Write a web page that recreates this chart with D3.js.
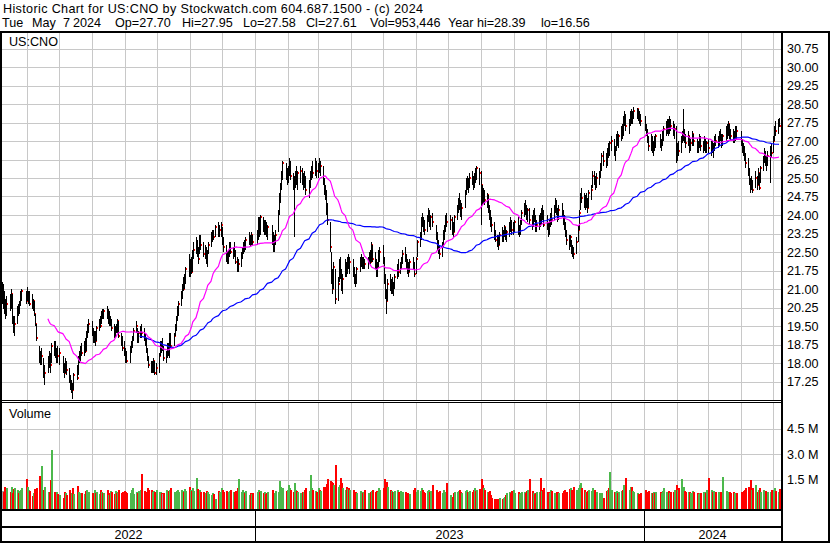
<!DOCTYPE html>
<html>
<head>
<meta charset="utf-8">
<script src="https://cdn.jsdelivr.net/npm/d3@7"></script>
<style>
  body { margin: 0; background: #fff; }
  svg { display: block; }
  text { font-family: "Liberation Sans", Arial, sans-serif; font-size: 12.6px; fill: #000; white-space: pre; }
</style>
</head>
<body>
<svg id="chart" width="830" height="543"></svg>
<script>
// daily bars, one row per month (May 2022 .. May 2024)
var closes = [
  21.0,20.5,20.1,20.0,20.4,20.3,20.8,19.7,19.5,19.6,20.2,20.1,20.4,20.7,20.9,20.5,
  20.7,20.8,20.4,20.3,20.5,20.0,19.6,19.0,18.2,18.1,18.3,17.5,17.6,18.1,18.0,17.9,18.7,18.5,18.3,18.4,18.3,
  18.4,17.8,17.6,18.0,17.7,17.3,17.0,17.1,16.9,17.5,17.4,18.2,18.3,18.6,18.4,18.8,18.5,19.2,19.4,19.6,
  19.3,19.0,19.2,18.9,19.4,19.6,19.5,20.0,19.9,20.1,19.9,20.0,19.6,19.7,19.4,19.1,19.4,19.3,19.7,19.1,18.9,18.6,18.5,
  18.2,18.1,18.6,18.8,19.0,19.3,19.5,18.9,19.2,19.3,19.2,19.0,18.8,18.5,18.2,17.9,17.7,17.8,18.1,17.6,17.8,
  18.3,18.8,18.6,18.6,18.2,18.3,18.7,18.5,19.1,18.7,19.1,19.4,19.8,20.2,20.4,20.8,21.1,21.0,21.4,21.8,21.7,
  21.8,21.7,22.4,22.6,22.9,22.5,22.2,23.1,22.8,22.4,22.6,22.1,22.5,22.8,23.2,23.3,23.1,23.5,23.2,23.4,23.6,
  23.0,22.7,22.3,22.2,22.5,22.8,22.5,22.6,22.4,22.1,21.9,22.0,22.4,22.6,22.8,22.7,23.0,23.1,22.9,23.2,22.9,
  23.2,23.7,23.3,23.9,23.5,23.6,23.4,23.3,23.5,23.0,22.7,23.0,23.2,24.1,24.8,25.2,25.6,26.1,25.6,25.8,
  25.9,26.0,25.6,25.2,25.3,25.6,25.4,25.7,25.8,25.4,25.5,25.3,25.0,25.2,25.7,25.9,25.7,26.1,25.8,
  26.0,25.9,26.0,25.3,25.0,24.9,24.2,23.8,22.7,21.5,21.0,21.9,20.6,21.2,22.0,21.5,21.1,21.4,22.0,21.7,22.2,21.9,22.1,
  21.6,21.4,21.3,21.8,22.0,22.2,21.9,22.1,22.0,22.2,22.3,22.1,22.8,22.2,22.0,21.7,21.9,22.4,22.5,
  22.2,21.4,20.8,20.5,21.2,21.0,21.3,21.0,21.1,21.5,21.9,21.7,22.0,22.2,22.4,22.3,21.9,21.8,21.7,22.1,22.0,21.6,
  22.2,22.9,23.1,23.8,23.7,23.5,23.4,23.9,24.1,23.6,23.9,23.7,23.1,22.8,22.6,22.4,22.8,23.3,23.4,23.9,23.7,
  23.8,23.4,23.3,23.9,24.3,24.5,24.4,24.1,24.3,24.9,25.4,25.2,25.3,25.5,25.4,25.3,25.6,25.5,25.9,25.7,
  25.2,24.6,24.9,24.6,24.8,24.3,23.9,23.7,23.6,23.2,23.0,22.9,22.8,23.2,23.0,23.3,23.5,23.1,23.3,23.6,23.5,23.4,23.6,
  23.7,23.3,23.4,23.7,24.1,24.3,24.2,23.9,24.2,23.8,23.6,24.0,23.9,23.5,23.6,23.9,23.7,24.2,24.0,23.6,
  23.5,23.3,23.7,24.0,23.8,24.3,24.5,24.1,23.9,24.2,24.0,23.8,23.6,23.3,23.0,22.8,23.1,22.6,22.5,22.4,22.9,23.4,
  24.1,24.8,24.7,24.5,24.6,24.4,24.3,24.9,25.0,25.6,25.4,25.3,25.5,25.7,25.9,26.4,26.2,26.1,26.6,26.5,26.9,
  27.0,26.6,26.7,27.2,26.9,27.2,27.5,27.3,27.9,28.0,27.6,27.8,28.1,27.8,28.0,28.2,28.3,28.0,27.9,27.8,
  27.6,27.3,27.0,26.8,27.1,26.7,26.9,26.8,27.2,26.9,27.0,27.3,27.5,27.6,27.7,27.4,27.8,27.6,27.4,27.5,26.4,
  26.8,26.6,27.1,27.2,27.3,27.0,26.9,27.2,26.7,26.9,27.3,27.0,26.8,26.9,27.1,26.8,26.9,27.0,26.7,26.9,
  26.7,26.8,26.6,26.7,27.1,27.0,27.1,27.3,27.2,26.9,27.2,27.4,27.5,27.7,27.3,27.2,27.1,27.2,27.5,27.4,
  27.0,26.7,26.6,26.3,26.1,25.8,25.4,25.1,25.2,25.0,25.5,25.2,25.7,25.1,25.9,26.3,26.5,26.2,26.1,26.4,26.6,26.5,
  27.0,27.5,27.4,27.8,27.61
];
var highs = [
  21.3,21.2,20.9,20.6,20.7,20.8,21.0,20.8,19.9,19.9,20.3,20.4,20.5,20.9,21.0,20.9,
  21.1,20.9,20.9,20.8,20.6,20.5,20.0,19.6,18.7,18.5,18.6,18.2,17.9,18.3,18.5,18.4,18.8,18.9,18.9,18.6,18.7,
  18.6,18.3,18.0,18.2,18.1,17.8,17.5,17.3,17.2,17.6,17.9,18.3,18.5,18.7,18.8,18.9,19.0,19.3,19.6,19.8,
  19.7,19.4,19.3,19.3,19.5,19.8,19.9,20.1,20.2,20.2,20.3,20.2,20.1,19.9,19.8,19.6,19.5,19.6,19.8,19.7,19.2,19.1,18.9,
  18.6,18.5,18.7,18.9,19.1,19.4,19.7,19.4,19.3,19.5,19.6,19.4,19.2,19.0,18.6,18.3,18.1,18.1,18.2,18.1,18.0,
  18.4,18.9,18.9,19.0,18.7,18.5,18.8,18.8,19.2,19.2,19.2,19.6,19.9,20.3,20.5,20.9,21.2,21.5,21.6,21.9,22.4,
  22.2,22.3,22.6,22.9,23.1,23.0,22.7,23.2,23.2,22.9,22.8,22.7,22.6,22.9,23.3,23.4,23.4,23.6,23.7,23.6,23.7,
  23.5,23.1,22.8,22.5,22.6,22.9,22.9,22.7,22.9,22.6,22.3,22.2,22.5,22.7,22.9,23.0,23.1,23.3,23.2,23.3,23.2,
  23.4,23.9,23.9,24.0,23.9,23.8,23.8,23.7,23.6,23.6,23.3,23.2,23.4,24.2,24.9,25.3,25.8,26.2,26.1,25.9,
  26.0,26.3,26.2,25.7,25.6,25.8,26.0,25.8,26.0,25.9,25.7,25.8,25.6,25.4,25.8,26.0,26.2,26.3,26.2,
  26.1,26.3,26.2,26.0,25.5,25.2,25.0,24.5,23.7,22.5,21.8,22.1,21.8,21.5,22.2,22.3,21.8,21.6,22.2,22.1,22.3,22.4,22.3,
  22.2,21.9,21.6,21.9,22.3,22.4,22.3,22.3,22.2,22.3,22.5,22.6,22.9,22.8,22.5,22.2,22.1,22.6,22.7,
  22.8,22.3,21.6,21.0,21.4,21.6,21.4,21.5,21.3,21.6,22.0,22.2,22.1,22.3,22.6,22.7,22.4,22.2,22.1,22.2,22.3,22.1,
  22.3,23.0,23.3,23.9,24.1,23.9,23.8,24.0,24.3,24.2,24.0,24.1,23.6,23.3,23.0,22.8,22.9,23.4,23.6,24.0,24.1,
  24.0,23.9,23.7,24.0,24.4,24.7,24.9,24.6,24.5,25.0,25.5,25.6,25.5,25.7,25.8,25.6,25.7,25.9,26.0,25.9,
  25.8,25.2,25.1,25.0,24.9,24.8,24.4,24.2,23.9,23.7,23.4,23.2,23.2,23.3,23.5,23.4,23.6,23.5,23.4,23.7,23.9,23.8,23.7,
  23.8,23.9,23.6,23.8,24.2,24.5,24.6,24.4,24.3,24.3,24.0,24.2,24.3,24.0,23.8,24.0,24.1,24.3,24.4,24.2,
  24.0,23.7,23.8,24.1,24.3,24.4,24.7,24.6,24.3,24.4,24.5,24.2,24.0,23.7,23.4,23.2,23.2,23.0,22.8,22.7,23.1,23.6,
  24.2,24.9,25.1,24.9,24.8,24.9,24.7,25.0,25.2,25.8,25.8,25.6,25.7,25.8,26.1,26.5,26.6,26.5,26.7,26.9,27.0,
  27.2,27.1,26.8,27.3,27.4,27.3,27.6,27.7,28.0,28.2,28.1,27.9,28.2,28.3,28.2,28.39,28.35,28.3,28.2,28.1,
  28.0,27.7,27.5,27.2,27.3,27.2,27.0,27.2,27.3,27.3,27.1,27.4,27.6,27.8,27.9,27.9,28.0,27.9,27.8,27.7,27.6,
  26.9,27.0,27.2,27.4,28.3,27.5,27.3,27.4,27.2,27.1,27.4,27.3,27.1,27.0,27.3,27.2,27.0,27.2,27.1,27.0,
  27.1,27.0,27.0,26.9,27.2,27.3,27.2,27.4,27.5,27.3,27.3,27.6,27.7,27.8,27.7,27.5,27.5,27.4,27.6,27.6,
  27.4,27.1,26.9,26.8,26.5,26.3,25.9,25.5,25.6,25.4,25.8,25.6,25.9,25.7,26.0,26.4,26.7,26.6,26.4,26.6,26.8,26.9,
  27.2,27.6,27.8,27.9,27.95
];
var lows = [
  20.4,20.2,20.0,19.8,19.9,20.1,20.2,19.6,19.2,19.1,19.6,19.9,20.0,20.3,20.5,20.4,
  20.5,20.4,20.3,20.2,20.1,19.9,19.5,18.9,18.0,17.9,17.9,17.4,17.1,17.6,17.8,17.6,18.0,18.3,18.2,18.0,18.0,
  17.9,17.6,17.4,17.6,17.5,17.2,16.9,16.8,16.56,16.9,17.3,17.5,18.0,18.1,18.3,18.3,18.4,18.5,19.0,19.2,
  19.1,18.8,18.8,18.7,18.9,19.3,19.4,19.6,19.8,19.8,19.8,19.6,19.5,19.5,19.3,19.0,19.0,19.2,19.2,19.0,18.7,18.5,18.3,
  18.0,18.0,18.0,18.4,18.6,18.9,19.2,18.8,18.8,19.0,19.0,18.9,18.7,18.4,18.1,17.8,17.6,17.6,17.6,17.5,17.5,
  17.6,18.3,18.4,18.5,18.1,18.0,18.2,18.3,18.2,18.6,18.7,19.1,19.3,19.7,19.9,20.3,20.6,20.9,21.0,21.2,21.5,
  21.5,21.6,21.7,22.2,22.4,22.3,22.0,22.4,22.6,22.3,22.2,22.0,21.9,22.4,22.7,22.9,23.0,23.1,23.1,23.1,23.1,
  22.8,22.5,22.1,22.0,22.0,22.3,22.4,22.2,22.3,22.0,21.7,21.7,21.9,22.2,22.4,22.5,22.6,22.8,22.7,22.8,22.8,
  22.8,23.0,23.1,23.2,23.3,23.2,23.2,23.1,23.0,22.8,22.5,22.5,22.8,23.3,24.0,24.5,25.0,25.4,25.4,25.2,
  25.3,25.6,25.4,25.0,23.1,25.1,25.2,25.0,25.3,25.2,25.0,25.1,24.8,24.7,25.1,25.4,25.5,25.6,25.5,
  25.5,25.7,25.6,25.2,24.8,24.6,24.0,23.6,22.5,21.2,20.8,21.0,20.4,20.5,21.3,21.4,20.9,20.8,21.5,21.5,21.6,21.8,21.6,
  21.5,21.2,21.1,21.2,21.7,21.9,21.8,21.8,21.8,21.8,22.0,22.0,22.1,22.1,21.8,21.5,21.5,21.9,22.1,
  22.0,21.2,20.6,20.0,20.5,20.9,20.8,20.8,20.7,21.0,21.4,21.5,21.6,21.8,22.0,22.1,21.8,21.6,21.5,21.7,21.8,21.5,
  21.6,22.3,22.7,23.0,23.5,23.3,23.2,23.3,23.7,23.5,23.4,23.5,23.0,22.6,22.4,22.2,22.3,22.7,23.0,23.3,23.5,
  23.4,23.2,23.1,23.3,23.8,24.1,24.2,23.9,23.8,24.3,24.8,25.0,24.9,25.1,25.2,25.0,25.1,25.3,25.4,25.2,
  23.6,24.4,24.5,24.4,24.3,24.1,23.8,23.5,23.3,23.0,22.9,22.7,22.6,22.8,22.9,22.9,23.1,23.0,22.9,23.1,23.3,23.2,23.2,
  23.3,23.2,23.1,23.2,23.6,23.9,24.0,23.8,23.7,23.6,23.4,23.5,23.7,23.3,23.3,23.4,23.5,23.6,23.8,23.5,
  23.4,23.1,23.2,23.5,23.6,23.8,24.1,24.0,23.7,23.8,23.9,23.6,23.4,23.1,22.8,22.6,22.7,22.4,22.3,22.2,22.4,22.9,
  23.4,24.2,24.5,24.3,24.2,24.3,24.1,24.3,24.6,25.1,25.2,25.0,25.1,25.2,25.5,25.8,26.0,25.9,26.0,26.3,26.4,
  26.6,26.4,26.2,26.6,26.8,26.7,27.0,27.1,27.2,27.6,27.4,27.3,27.6,27.7,27.7,27.9,27.9,27.8,27.7,27.6,
  27.4,27.2,26.9,26.6,26.6,26.5,26.4,26.6,26.7,26.7,26.6,26.8,27.0,27.2,27.3,27.2,27.3,27.4,27.2,27.1,26.1,
  26.2,26.4,26.5,26.9,27.0,26.9,26.7,26.8,26.5,26.6,26.8,26.8,26.5,26.5,26.7,26.6,26.5,26.6,26.5,26.5,
  26.5,26.4,26.5,26.3,26.6,26.8,26.7,26.8,27.0,26.7,26.8,27.0,27.1,27.2,27.1,27.0,26.9,26.9,27.0,27.1,
  26.8,26.5,26.4,26.2,25.9,25.6,25.2,24.9,25.0,24.9,25.1,25.0,25.2,25.0,25.3,25.8,26.1,26.0,25.8,26.0,25.3,26.3,
  26.5,27.0,27.2,27.3,27.58
];
// volume in thousands of shares
var volumes = [
  820,780,1050,900,1000,760,1090,700,960,1020,880,750,820,900,1000,1550,
  1080,900,850,520,700,980,900,1000,1720,850,2300,900,1100,800,760,1500,3250,780,700,800,650,
  600,450,800,700,580,900,650,720,1000,680,1150,800,700,620,750,680,820,900,700,760,
  720,650,880,700,760,690,920,800,700,750,900,620,700,820,760,690,850,730,780,900,700,800,860,
  780,700,720,900,1000,650,800,700,820,900,1850,850,760,700,1000,880,920,800,850,760,900,
  800,760,700,650,720,880,780,820,900,1000,760,700,850,900,780,900,820,760,980,850,1050,
  900,820,1000,850,1600,950,880,920,800,760,700,820,780,650,600,700,650,380,820,760,1000,
  880,760,820,700,760,820,900,800,780,820,1000,1550,800,900,760,700,820,600,700,650,720,
  800,900,760,820,700,760,680,720,800,900,750,700,820,760,1450,1100,900,1000,850,900,
  1200,1000,900,800,1300,900,820,760,700,800,760,900,1000,850,1800,1000,900,850,800,
  1000,900,850,1100,1000,1050,1250,1550,1450,1350,1300,1200,2350,1100,1200,1600,1300,1000,900,1100,950,1000,900,
  900,800,760,700,820,760,720,800,900,700,650,760,820,900,800,850,760,1000,900,
  1000,1550,1300,1400,1100,900,820,760,800,850,900,760,820,700,800,760,700,720,680,650,900,1000,
  800,900,820,1000,900,760,700,820,900,760,820,1200,900,800,760,820,700,900,760,800,1300,
  600,500,700,760,800,820,900,760,700,850,900,800,760,820,780,900,1000,850,900,950,
  1550,1200,1000,900,800,760,820,600,450,400,380,350,400,420,380,450,500,600,720,760,700,820,900,
  700,760,650,720,800,760,700,820,900,1550,820,700,650,720,800,760,1600,820,900,1000,
  800,760,700,900,820,700,650,760,800,720,700,820,900,760,800,950,1000,900,850,1100,900,1000,
  1200,1300,1000,900,800,760,820,900,850,1000,900,800,760,720,650,700,450,820,900,1000,1950,
  900,800,760,820,700,760,820,900,1200,1000,1600,900,1100,1050,820,760,700,650,600,700,
  900,800,760,820,700,750,800,720,760,800,700,820,1000,760,800,850,700,760,800,900,1200,
  900,1000,1550,900,1100,820,760,800,760,700,820,760,700,650,720,700,760,800,720,900,
  1600,900,760,820,700,800,760,720,800,760,1650,820,760,700,800,720,760,700,650,700,
  800,760,820,900,1000,1100,1000,1500,900,1000,1200,800,900,1000,800,900,760,820,700,760,800,900,
  900,1000,850,800,953
];
var holidays = ["2022-05-30","2022-06-20","2022-07-04","2022-09-05","2022-11-24","2022-12-26",
  "2023-01-02","2023-01-16","2023-02-20","2023-04-07","2023-05-29","2023-06-19","2023-07-04",
  "2023-09-04","2023-11-23","2023-12-25","2024-01-01","2024-01-15","2024-02-19","2024-03-29"];
var priceTicks = [17.25,18.00,18.75,19.50,20.25,21.00,21.75,22.50,23.25,24.00,24.75,25.50,26.25,27.00,27.75,28.50,29.25,30.00,30.75];
var volTicks = [1500,3000,4500];
var volTickLabels = ["1.5 M","3.0 M","4.5 M"];
var years = ["2022","2023","2024"];
var header1 = "Historic Chart for US:CNO by Stockwatch.com 604.687.1500 - (c) 2024";
var header2 = ["Tue","May","7","2024","Op=27.70","Hi=27.95","Lo=27.58","Cl=27.61","Vol=953,446","Year hi=28.39","lo=16.56"];
var header2X = [2, 32, 63, 73, 115, 182, 243, 306, 370, 448, 541];

var fmt = d3.timeFormat("%Y-%m-%d");
var days = d3.timeDay.range(new Date(2022, 4, 9), new Date(2024, 4, 8))
  .filter(function(d) { return d.getDay() % 6 !== 0 && holidays.indexOf(fmt(d)) < 0; });

var left = 2, right = 781, pTop = 33, pBot = 400, vTop = 403, vBot = 509;

var x = d3.scaleTime().domain([new Date(2022, 4, 8), new Date(2024, 4, 8)]).range([1, 780]);
var yP = d3.scaleLinear().domain([16.5, 31.5]).range([400, 30]);
var yV = d3.scaleLinear().domain([0, 6000]).range([505.3, 403.3]);

var svg = d3.select("#chart");
svg.append("rect").attr("width", 830).attr("height", 543).attr("fill", "#fff");

var grid = svg.append("g").attr("stroke", "#c8c8c8").attr("stroke-width", 1).attr("shape-rendering", "crispEdges");
var months = x.ticks(d3.timeMonth.every(1)).filter(function(m) { return x(m) > left + 3; });

grid.selectAll(".mp").data(months).enter().append("line")
  .attr("x1", function(d) { return Math.round(x(d)) + 0.5; })
  .attr("x2", function(d) { return Math.round(x(d)) + 0.5; })
  .attr("y1", pTop).attr("y2", pBot);
grid.selectAll(".mv").data(months).enter().append("line")
  .attr("x1", function(d) { return Math.round(x(d)) + 0.5; })
  .attr("x2", function(d) { return Math.round(x(d)) + 0.5; })
  .attr("y1", vTop).attr("y2", vBot);
grid.selectAll(".hp").data(priceTicks).enter().append("line")
  .attr("x1", left).attr("x2", right)
  .attr("y1", function(d) { return Math.round(yP(d)) + 0.5; })
  .attr("y2", function(d) { return Math.round(yP(d)) + 0.5; });
grid.selectAll(".hv").data(volTicks).enter().append("line")
  .attr("x1", left).attr("x2", right)
  .attr("y1", function(d) { return Math.round(yV(d)) + 0.5; })
  .attr("y2", function(d) { return Math.round(yV(d)) + 0.5; });

var rows = days.map(function(d, i) {
  return { date: d, px: Math.round(x(d)), h: highs[i], l: lows[i], c: closes[i], v: volumes[i],
           prev: i ? closes[i - 1] : closes[i] };
});

// volume bars
svg.append("g").attr("shape-rendering", "crispEdges")
  .selectAll("rect").data(rows).enter().append("rect")
  .attr("x", function(d) { return d.px; })
  .attr("width", 2)
  .attr("y", function(d) { return Math.round(yV(d.v)); })
  .attr("height", function(d) { return vBot - Math.round(yV(d.v)); })
  .attr("fill", function(d) { return d.c > d.prev ? "#4cb84c" : d.c < d.prev ? "#ff0000" : "#a0a0a0"; });

// price bars: black high-low, red close tick to the right
var pb = svg.append("g").attr("shape-rendering", "crispEdges")
  .selectAll("g").data(rows).enter().append("g");
pb.append("rect")
  .attr("x", function(d) { return d.px; })
  .attr("width", 1)
  .attr("y", function(d) { return Math.round(yP(Math.max(d.h, d.c))); })
  .attr("height", function(d) { return Math.max(1, Math.round(yP(Math.min(d.l, d.c))) - Math.round(yP(Math.max(d.h, d.c)))); })
  .attr("fill", "#000");
pb.append("rect")
  .attr("x", function(d) { return d.px + 1; })
  .attr("width", 1)
  .attr("y", function(d) { return Math.round(yP(d.c)) - 1; })
  .attr("height", 2)
  .attr("fill", "#ff0000");

// moving averages
function sma(n) {
  return rows.map(function(d, i) {
    return { date: d.date, v: i < n - 1 ? null : d3.mean(closes.slice(i - n + 1, i + 1)) };
  });
}
var line = d3.line().defined(function(d) { return d.v != null; })
  .x(function(d) { return x(d.date); }).y(function(d) { return yP(d.v); });
svg.append("path").datum(sma(90)).attr("d", line)
  .attr("fill", "none").attr("stroke", "#0000ff").attr("stroke-width", 1.2);
svg.append("path").datum(sma(30)).attr("d", line)
  .attr("fill", "none").attr("stroke", "#ff00ff").attr("stroke-width", 1.2);

// frame
var frame = svg.append("g").attr("fill", "#000").attr("shape-rendering", "crispEdges");
frame.append("rect").attr("x", 0).attr("y", 31).attr("width", 830).attr("height", 2);
frame.append("rect").attr("x", 0).attr("y", 31).attr("width", 2).attr("height", 512);
frame.append("rect").attr("x", 828).attr("y", 31).attr("width", 2).attr("height", 512);
frame.append("rect").attr("x", 781).attr("y", 31).attr("width", 2).attr("height", 512);
frame.append("rect").attr("x", 0).attr("y", 541).attr("width", 830).attr("height", 2);
frame.append("rect").attr("x", 0).attr("y", 400).attr("width", 781).attr("height", 1);
frame.append("rect").attr("x", 0).attr("y", 402).attr("width", 781).attr("height", 1);
frame.append("rect").attr("x", 0).attr("y", 509).attr("width", 781).attr("height", 2);
frame.append("rect").attr("x", 0).attr("y", 526).attr("width", 781).attr("height", 2);

var yearStarts = [new Date(2023, 0, 1), new Date(2024, 0, 1)];
frame.selectAll(".ys").data(yearStarts).enter().append("rect")
  .attr("x", function(d) { return Math.round(x(d)); })
  .attr("y", 511).attr("width", 1).attr("height", 30);

var yearEdges = [left, Math.round(x(yearStarts[0])), Math.round(x(yearStarts[1])), right];
svg.selectAll(".yl").data(years).enter().append("text")
  .attr("x", function(d, i) { return (yearEdges[i] + yearEdges[i + 1]) / 2; })
  .attr("y", 539)
  .attr("text-anchor", "middle")
  .text(function(d) { return d; });

// axis labels
svg.selectAll(".pl").data(priceTicks).enter().append("text")
  .attr("x", 787).attr("y", function(d) { return yP(d) + 4.5; })
  .text(function(d) { return d.toFixed(2); });
svg.selectAll(".vl").data(volTicks).enter().append("text")
  .attr("x", 787).attr("y", function(d) { return yV(d) + 4.5; })
  .text(function(d, i) { return volTickLabels[i]; });

svg.append("text").attr("x", 3).attr("y", 13).attr("textLength", 420).attr("lengthAdjust", "spacing").text(header1);
var h2 = svg.append("text").attr("y", 27);
h2.selectAll("tspan").data(header2).enter().append("tspan")
  .attr("x", function(d, i) { return header2X[i]; })
  .text(function(d) { return d; });
svg.append("text").attr("x", 9).attr("y", 46).text("US:CNO");
svg.append("text").attr("x", 9).attr("y", 418).text("Volume");
</script>
</body>
</html>
